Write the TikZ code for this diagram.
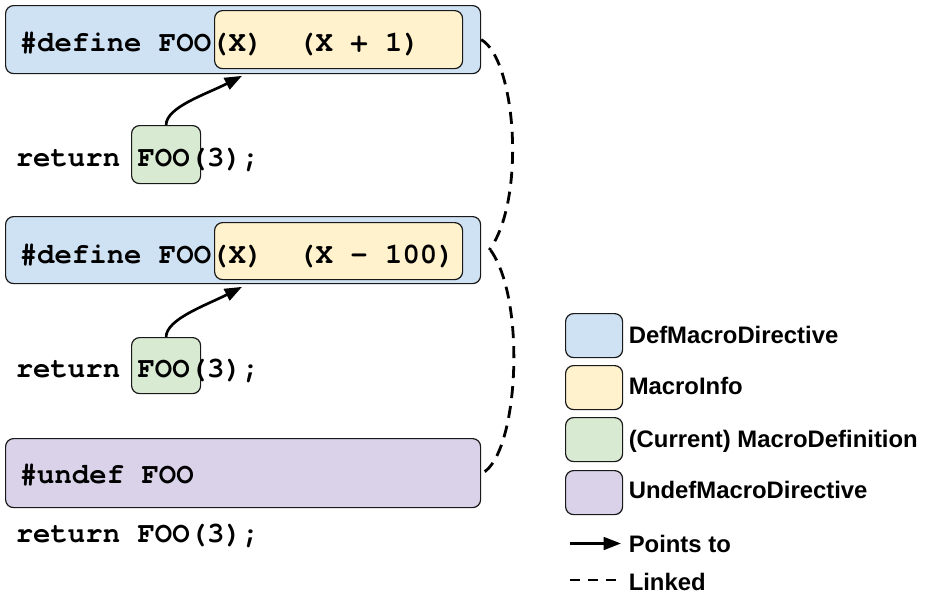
\documentclass[tikz,border=0pt]{standalone}
\usepackage{fontspec}
\setmainfont{Liberation Sans}
\setmonofont{texgyrecursor}[Extension=.otf, UprightFont=*-regular, BoldFont=*-bold, Ligatures={NoCommon}]
\usetikzlibrary{arrows.meta}

\definecolor{defblue}{HTML}{CFE2F3}
\definecolor{infoyellow}{HTML}{FFF2CC}
\definecolor{curgreen}{HTML}{D9EAD3}
\definecolor{undefpurple}{HTML}{D9D2E9}

\tikzset{
  box/.style={draw=black!90, line width=0.9pt, rounded corners=6pt,
    anchor=north west, inner sep=0pt},
  defbox/.style={box, fill=defblue},
  infobox/.style={box, fill=infoyellow},
  curbox/.style={box, fill=curgreen},
  undefbox/.style={box, fill=undefpurple},
  code/.style={anchor=base west, inner sep=0pt,
    font=\fontsize{21.75pt}{24pt}\selectfont\ttfamily\bfseries},
  legendtext/.style={anchor=base west, inner sep=0pt,
    font=\fontsize{17.9pt}{20pt}\selectfont\bfseries},
  swatch/.style={box, minimum width=42.75pt, minimum height=33pt},
  pointsto/.style={line width=2pt, -{Triangle[length=13pt,width=9.5pt]}},
  linked/.style={line width=2.1pt, dash pattern=on 9pt off 6pt},
}

\begin{document}
\begin{tikzpicture}[x=0.75pt, y=-0.75pt]
  \useasboundingbox (0,0) rectangle (925,597);

  % first definition
  \node[defbox, minimum width=356.25pt, minimum height=51pt] (def1) at (5,5) {};
  \node[infobox, minimum width=186pt, minimum height=43.5pt] (info1) at (214,10) {};
  \node[code] (def1txt) at (19.5,51.5) {\#define FOO(X)~~(X + 1)};
  \node[curbox, minimum width=51.75pt, minimum height=43.5pt] (cur1) at (131,125) {};
  \node[code] (ret1) at (15.5,166) {return FOO(3);};

  % redefinition
  \node[defbox, minimum width=356.25pt, minimum height=50.25pt] (def2) at (5,216) {};
  \node[infobox, minimum width=186pt, minimum height=42.75pt] (info2) at (214,222) {};
  \node[code] (def2txt) at (19.5,263) {\#define FOO(X)~~(X - 100)};
  \node[curbox, minimum width=51.75pt, minimum height=42pt] (cur2) at (131,337) {};
  \node[code] (ret2) at (15.5,377) {return FOO(3);};

  % undef
  \node[undefbox, minimum width=356.25pt, minimum height=51.75pt] (undef) at (5,438) {};
  \node[code] (undeftxt) at (19.5,483) {\#undef FOO};
  \node[code] (ret3) at (15.5,542) {return FOO(3);};

  % points to
  \draw[pointsto] (cur1.north) .. controls +(0,-18) and +(-35,18) .. ([xshift=21pt,yshift=-5pt]info1.south west);
  \draw[pointsto] (cur2.north) .. controls +(0,-18) and +(-35,18) .. ([xshift=21pt,yshift=-5pt]info2.south west);

  % linked
  \draw[linked] (def1.east) .. controls +(35,20) and +(37,-50) .. ([xshift=6pt]def2.east);
  \draw[linked] ([xshift=7pt]def2.east) .. controls +(36,50) and +(36,-20) .. ([xshift=1pt]undef.east);

  % legend
  \node[swatch, fill=defblue] (lgdef) at (565,313) {};
  \node[swatch, fill=infoyellow] (lginfo) at (565,365) {};
  \node[swatch, fill=curgreen] (lgcur) at (565,417) {};
  \node[swatch, fill=undefpurple] (lgundef) at (565,470) {};
  \node[legendtext] at (628.5,343) {DefMacroDirective};
  \node[legendtext] at (628.5,394.5) {MacroInfo};
  \node[legendtext] at (628.5,447.5) {(Current) MacroDefinition};
  \node[legendtext] at (628.5,498) {UndefMacroDirective};
  \coordinate (lgpa) at (570,543.5);
  \coordinate (lgpb) at (621,543.5);
  \coordinate (lgla) at (570,580);
  \coordinate (lglb) at (618,580);
  \draw[pointsto] (lgpa) -- (lgpb);
  \draw[linked, dash pattern=on 7.5pt off 6pt] (lgla) -- (lglb);
  \node[legendtext] at (628.5,552) {Points to};
  \node[legendtext] at (628.5,590) {Linked};
\end{tikzpicture}
\end{document}
